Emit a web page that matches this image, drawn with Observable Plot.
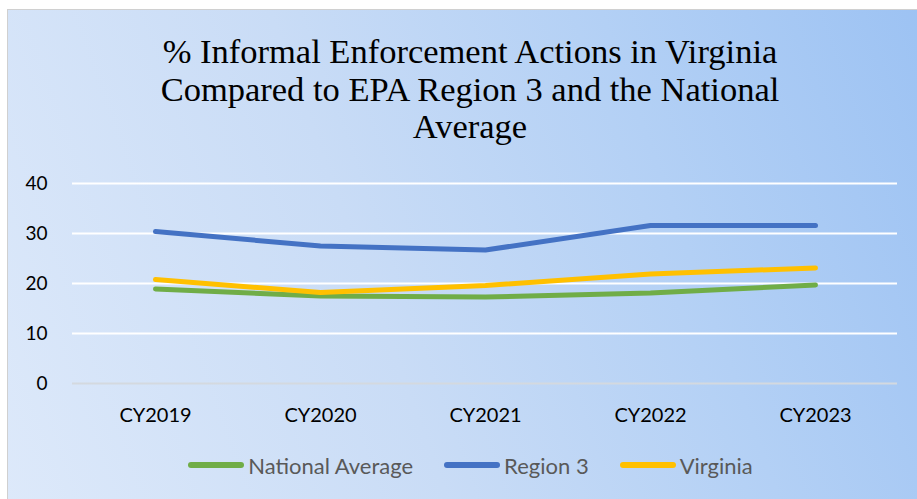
<!DOCTYPE html>
<html><head><meta charset="utf-8">
<script src="https://cdn.jsdelivr.net/npm/d3@7"></script>
<script src="https://cdn.jsdelivr.net/npm/@observablehq/plot@0.6"></script>
<style>
html,body{margin:0;padding:0;background:#fff;overflow:hidden;width:917px;height:499px}
#chart{position:absolute;left:7px;top:9px;width:926px;height:500px;box-sizing:border-box;border:1.5px solid #d0d0d0;
  background:linear-gradient(70deg,#dde9fa 0%,#c9dcf6 40%,#b3d0f5 70%,#9cc2f3 100%);overflow:hidden}
#title{position:absolute;left:0;top:23px;width:100%;text-align:center;font-family:"Liberation Serif","Times New Roman",serif;font-size:34.5px;line-height:37.5px;color:#000}
#plot{position:absolute;left:-8.5px;top:149.5px}
#legend{position:absolute;left:0;top:442px;width:100%;height:26px;display:flex;justify-content:center;align-items:center;font-family:Lato,"Open Sans",sans-serif;font-size:22px;color:#595959}
.item{display:flex;align-items:center;margin:0 15px}
.item svg{margin-right:3px}
</style></head>
<body>
<div id="chart">
  <div id="title">% Informal Enforcement Actions in Virginia<br>Compared to EPA Region 3 and the National<br>Average</div>
  <div id="plot"></div>
  <div id="legend"></div>
</div>
<script>
const years = ["CY2019","CY2020","CY2021","CY2022","CY2023"];
const nationalAverage = [18.9, 17.5, 17.3, 18.1, 19.7];
const region3 = [30.4, 27.5, 26.7, 31.6, 31.6];
const virginia = [20.8, 18.2, 19.6, 21.9, 23.1];
const seriesNames = ["National Average","Region 3","Virginia"];
const seriesColors = ["#70ad47","#4472c4","#ffc000"];
const yTicks = [0,10,20,30,40];

const seriesValues = [nationalAverage, region3, virginia];
const data = [];
seriesNames.forEach((s,i)=>years.forEach((y,j)=>data.push({series:s, year:y, value:seriesValues[i][j]})));

const chart = Plot.plot({
  width: 917, height: 280,
  marginTop: 23, marginBottom: 57, marginLeft: 72, marginRight: 20,
  style:{background:"transparent", fontFamily:"Lato, 'Open Sans', sans-serif", fontSize:"20px", color:"#000"},
  x:{type:"point", domain:years, padding:0.5, label:null, tickSize:0, tickPadding:25},
  y:{domain:[0,40], ticks:yTicks, label:null, tickSize:0, tickPadding:25},
  color:{domain:seriesNames, range:seriesColors},
  marks:[
    Plot.ruleY(yTicks.filter(d=>d>0), {stroke:"#ffffff", strokeWidth:2, strokeOpacity:1}),
    Plot.ruleY([0], {stroke:"#d4d9df", strokeWidth:2}),
    Plot.axisX({tickSize:0, tickPadding:24, fill:"#000", fontSize:20}),
    Plot.axisY({ticks:yTicks, tickSize:0, tickPadding:25, fill:"#000", fontSize:19}),
    Plot.line(data, {x:"year", y:"value", z:"series", stroke:"series", strokeWidth:5, strokeLinecap:"round", strokeLinejoin:"round"})
  ]
});
document.getElementById("plot").appendChild(chart);

const legend = document.getElementById("legend");
seriesNames.forEach((s,i)=>{
  const it = document.createElement("div");
  it.className = "item";
  it.innerHTML = `<svg width="58" height="10"><line x1="4" y1="5" x2="54" y2="5" stroke="${seriesColors[i]}" stroke-width="6" stroke-linecap="round"/></svg><span>${s}</span>`;
  legend.appendChild(it);
});
</script>
</body></html>
